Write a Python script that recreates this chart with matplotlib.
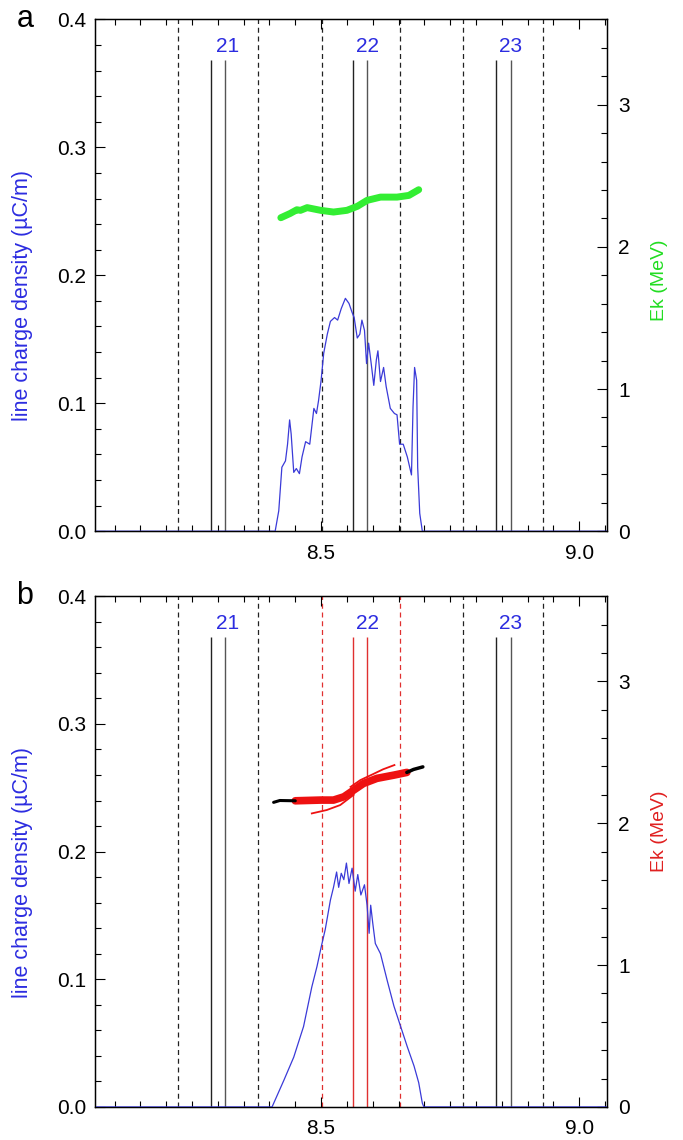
import matplotlib.pyplot as plt
from matplotlib.ticker import MultipleLocator, FixedLocator, FormatStrFormatter

plt.rcParams['font.family'] = ['Liberation Sans', 'DejaVu Sans']

# cavity geometry along the beam line (m)
gap_edges = [8.222, 8.377, 8.501, 8.652, 8.775, 8.929]
cell_lines = [8.286, 8.313, 8.561, 8.588, 8.838, 8.867]
cell_names = ['21', '22', '23']
name_x = [8.318, 8.589, 8.867]

# panel a: line charge density
qa_x = [8.062, 8.411, 8.418, 8.424, 8.431, 8.435, 8.439, 8.442, 8.447, 8.452, 8.458,
        8.463, 8.470, 8.478, 8.486, 8.491, 8.495, 8.500, 8.505, 8.512, 8.518, 8.526,
        8.532, 8.539, 8.547, 8.554, 8.560, 8.564, 8.570, 8.575, 8.579, 8.584, 8.588,
        8.592, 8.597, 8.602, 8.607, 8.610, 8.615, 8.621, 8.626, 8.634, 8.642, 8.647,
        8.652, 8.659, 8.667, 8.675, 8.678, 8.681, 8.685, 8.687, 8.691, 8.696, 9.054]
qa_y = [0.0, 0.0, 0.016, 0.050, 0.055, 0.068, 0.087, 0.076, 0.046, 0.049, 0.045,
        0.058, 0.070, 0.068, 0.096, 0.092, 0.102, 0.118, 0.139, 0.154, 0.164, 0.167,
        0.165, 0.174, 0.182, 0.178, 0.171, 0.167, 0.151, 0.154, 0.165, 0.157, 0.131,
        0.147, 0.131, 0.114, 0.134, 0.141, 0.117, 0.128, 0.113, 0.096, 0.092, 0.091,
        0.068, 0.068, 0.058, 0.044, 0.097, 0.128, 0.118, 0.050, 0.014, 0.0, 0.0]

# panel a: kinetic energy
ea_x = [8.422, 8.440, 8.453, 8.460, 8.473, 8.499, 8.524, 8.550, 8.570, 8.589,
        8.615, 8.647, 8.670, 8.689]
ea_y = [2.205, 2.235, 2.261, 2.257, 2.276, 2.257, 2.245, 2.257, 2.285, 2.327,
        2.350, 2.350, 2.362, 2.402]

# panel b: line charge density
qb_x = [8.062, 8.405, 8.428, 8.447, 8.466, 8.482, 8.492, 8.500, 8.508, 8.518, 8.524,
        8.530, 8.534, 8.539, 8.544, 8.549, 8.554, 8.560, 8.566, 8.571, 8.577, 8.584,
        8.589, 8.593, 8.596, 8.600, 8.605, 8.615, 8.628, 8.641, 8.654, 8.667, 8.680,
        8.689, 8.696, 8.699, 9.054]
qb_y = [0.0, 0.0, 0.021, 0.039, 0.063, 0.094, 0.110, 0.125, 0.139, 0.162, 0.172,
        0.184, 0.172, 0.183, 0.178, 0.191, 0.175, 0.187, 0.169, 0.182, 0.166, 0.174,
        0.158, 0.136, 0.158, 0.144, 0.128, 0.120, 0.099, 0.079, 0.063, 0.047, 0.032,
        0.019, 0.003, 0.0, 0.0]

# panel b: kinetic energy, head/tail (black) and core (red)
eb_head_x = [8.408, 8.420, 8.450]
eb_head_y = [2.147, 2.160, 2.158]
eb_tail_x = [8.666, 8.679, 8.697]
eb_tail_y = [2.358, 2.379, 2.397]
eb_core_x = [8.450, 8.499, 8.524, 8.544, 8.563, 8.582, 8.608, 8.641, 8.666]
eb_core_y = [2.158, 2.163, 2.163, 2.186, 2.233, 2.280, 2.316, 2.339, 2.358]
eb_up_x = [8.557, 8.576, 8.600, 8.620, 8.642]
eb_up_y = [2.256, 2.304, 2.345, 2.380, 2.410]
eb_low_x = [8.482, 8.511, 8.537, 8.563]
eb_low_y = [2.069, 2.093, 2.128, 2.200]

blue = '#2c2ce0'
line_blue = '#3a3ad8'


def draw_panel(ax, q_x, q_y, letter, ek_color, red_cell=False):
    for i, x in enumerate(gap_edges):
        c = '#e03030' if (red_cell and i in (2, 3)) else '#222222'
        ax.axvline(x, color=c, ls=(0, (4, 3)), lw=0.9, zorder=1)
    for i, x in enumerate(cell_lines):
        if red_cell and i in (2, 3):
            c = '#e03030'
        else:
            c = '#222222' if i % 2 == 0 else '#555555'
        ax.vlines(x, 0, 0.368, color=c, lw=1.0, zorder=1)
    for name, x in zip(cell_names, name_x):
        ax.text(x, 0.379, name, color=blue, fontsize=15, ha='center', va='center')

    ax.plot(q_x, q_y, color=line_blue, lw=0.9, zorder=3)

    ax.set_xlim(8.062, 9.054)
    ax.set_ylim(0, 0.4)
    ax.xaxis.set_major_locator(FixedLocator([8.5, 9.0]))
    ax.xaxis.set_minor_locator(MultipleLocator(0.05))
    ax.xaxis.set_major_formatter(FormatStrFormatter('%.1f'))
    ax.yaxis.set_major_locator(MultipleLocator(0.1))
    ax.yaxis.set_minor_locator(MultipleLocator(0.02))
    ax.yaxis.set_major_formatter(FormatStrFormatter('%.1f'))
    ax.tick_params(which='both', direction='in', top=True, right=False,
                   labelsize=15, width=0.8)
    ax.tick_params(which='major', length=7)
    ax.tick_params(which='minor', length=4)
    ax.tick_params(axis='x', pad=9)
    ax.tick_params(axis='y', pad=6)
    ax.set_ylabel('line charge density (µC/m)', color=blue, fontsize=15.5)
    ax.yaxis.set_label_coords(-0.12, 0.46)
    for s in ax.spines.values():
        s.set_linewidth(1.0)

    ax.text(-0.12, 1.0, letter, transform=ax.transAxes, fontsize=22,
            ha='right', va='center')

    ax2 = ax.twinx()
    ax2.set_ylim(0, 3.6)
    ax2.yaxis.set_major_locator(MultipleLocator(1))
    ax2.yaxis.set_minor_locator(MultipleLocator(0.2))
    ax2.tick_params(which='both', direction='in', labelsize=15, width=0.8, pad=8)
    ax2.tick_params(which='major', length=7)
    ax2.tick_params(which='minor', length=4)
    ax2.set_ylabel('Ek (MeV)', color=ek_color, fontsize=14)
    return ax2


fig = plt.figure(figsize=(6.83, 11.4), dpi=100)
ax_a = fig.add_axes([0.139, 0.534, 0.750, 0.449])
ax_b = fig.add_axes([0.139, 0.029, 0.750, 0.448])

ek_a = draw_panel(ax_a, qa_x, qa_y, 'a', '#22dd22')
ek_a.plot(ea_x, ea_y, color='#33ee33', lw=5, solid_capstyle='round', zorder=4)
ek_a.yaxis.set_label_coords(1.085, 0.49)

ek_b = draw_panel(ax_b, qb_x, qb_y, 'b', '#e02020', red_cell=True)
ek_b.plot(eb_core_x, eb_core_y, color='#ee1111', lw=5.5, solid_capstyle='round', zorder=4)
ek_b.plot(eb_up_x, eb_up_y, color='#ee1111', lw=1.3, zorder=4)
ek_b.plot(eb_low_x, eb_low_y, color='#ee1111', lw=1.3, zorder=4)
ek_b.plot(eb_head_x, eb_head_y, color='black', lw=2.2, solid_capstyle='round', zorder=5)
ek_b.plot(eb_tail_x, eb_tail_y, color='black', lw=2.5, solid_capstyle='round', zorder=5)
ek_b.yaxis.set_label_coords(1.085, 0.54)

fig.savefig('out.png', dpi=100)
